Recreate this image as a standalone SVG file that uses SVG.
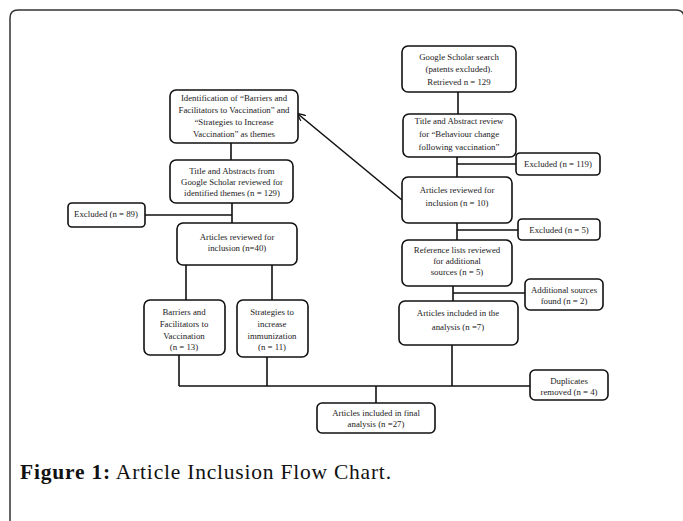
<svg xmlns="http://www.w3.org/2000/svg" width="683" height="521" viewBox="0 0 683 521">
<defs>
<style>
.box{fill:#fff;stroke:#111;stroke-width:1.6}
.t{font-family:"Liberation Serif","Times New Roman",serif;font-size:8.8px;fill:#222;text-anchor:middle;dominant-baseline:central}
.c{fill:none;stroke:#111;stroke-width:1.6}
.cap{font-family:"Liberation Serif","Times New Roman",serif;font-size:21.5px;fill:#111}
</style>
<marker id="ah" viewBox="0 0 10 10" refX="9" refY="5" markerWidth="8" markerHeight="8" orient="auto" markerUnits="userSpaceOnUse">
<path d="M0,0 L10,5 L0,10" fill="none" stroke="#111" stroke-width="1.6"/>
</marker>
</defs>
<rect width="683" height="521" fill="#fff"/>
<path d="M10,521 L10,18 Q10,10 18,10 L676,10 Q683,10 684,16" fill="none" stroke="#333" stroke-width="1.5"/>

<g id="connectors">
<path class="c" d="M458,92 V114"/>
<path class="c" d="M457,157 V177 M457,164 H516"/>
<path class="c" d="M457,223 V240 M457,230 H518"/>
<path class="c" d="M453,286 V301 M453,293 H525"/>
<path class="c" d="M452,345 V386"/>
<path class="c" d="M179,355 V386 M267,357 V386 M179,386 H530"/>
<path class="c" d="M376,386 V403"/>
<path class="c" d="M231,143 V160"/>
<path class="c" d="M232,203 V223 M145,215 H232"/>
<path class="c" d="M186,265 V300 M272,265 V300"/>
<path class="c" d="M402,200 L298,114" marker-end="url(#ah)"/>
</g>

<g id="n1"><rect class="box" x="402" y="46" width="114" height="46" rx="6"/>
<text class="t" x="459" y="57">Google Scholar search</text>
<text class="t" x="459" y="69">(patents excluded).</text>
<text class="t" x="459" y="82">Retrieved n = 129</text></g>

<g id="n2"><rect class="box" x="403" y="114" width="113" height="43" rx="6"/>
<text class="t" x="459" y="121">Title and Abstract review</text>
<text class="t" x="459" y="134">for “Behaviour change</text>
<text class="t" x="459" y="147">following vaccination”</text></g>

<g id="n3"><rect class="box" x="516" y="153" width="84" height="22" rx="4"/>
<text class="t" x="558" y="164">Excluded (n = 119)</text></g>

<g id="n4"><rect class="box" x="402" y="177" width="110" height="46" rx="6"/>
<text class="t" x="457" y="190">Articles reviewed for</text>
<text class="t" x="457" y="203">inclusion  (n = 10)</text></g>

<g id="n5"><rect class="box" x="518" y="219" width="82" height="21" rx="4"/>
<text class="t" x="559" y="229.5">Excluded (n = 5)</text></g>

<g id="n6"><rect class="box" x="402" y="240" width="110" height="46" rx="6"/>
<text class="t" x="457" y="250">Reference lists reviewed</text>
<text class="t" x="457" y="261">for additional</text>
<text class="t" x="457" y="272">sources (n = 5)</text></g>

<g id="n7"><rect class="box" x="525" y="279" width="78" height="31" rx="5"/>
<text class="t" x="564" y="290">Additional sources</text>
<text class="t" x="564" y="301">found (n = 2)</text></g>

<g id="n8"><rect class="box" x="399" y="301" width="119" height="44" rx="6"/>
<text class="t" x="458" y="313">Articles included in the</text>
<text class="t" x="458" y="327">analysis  (n =7)</text></g>

<g id="n9"><rect class="box" x="530" y="370" width="78" height="30" rx="5"/>
<text class="t" x="569" y="381">Duplicates</text>
<text class="t" x="569" y="392">removed (n = 4)</text></g>

<g id="n10"><rect class="box" x="317" y="403" width="118" height="30" rx="5"/>
<text class="t" x="376" y="413">Articles included in final</text>
<text class="t" x="376" y="424">analysis  (n =27)</text></g>

<g id="n11"><rect class="box" x="170" y="90" width="128" height="53" rx="6"/>
<text class="t" x="234" y="98">Identification of “Barriers and</text>
<text class="t" x="234" y="110">Facilitators to Vaccination” and</text>
<text class="t" x="234" y="122">“Strategies to Increase</text>
<text class="t" x="234" y="134">Vaccination” as themes</text></g>

<g id="n12"><rect class="box" x="170" y="160" width="123" height="43" rx="6"/>
<text class="t" x="232" y="171">Title and Abstracts from</text>
<text class="t" x="232" y="182">Google Scholar reviewed for</text>
<text class="t" x="232" y="193">identified themes (n = 129)</text></g>

<g id="n13"><rect class="box" x="68" y="203" width="77" height="24" rx="4"/>
<text class="t" x="106" y="214">Excluded (n = 89)</text></g>

<g id="n14"><rect class="box" x="177" y="223" width="120" height="42" rx="6"/>
<text class="t" x="237" y="237">Articles reviewed for</text>
<text class="t" x="237" y="248">inclusion  (n=40)</text></g>

<g id="n15"><rect class="box" x="144" y="300" width="81" height="55" rx="6"/>
<text class="t" x="184" y="312">Barriers and</text>
<text class="t" x="184" y="324">Facilitators to</text>
<text class="t" x="184" y="336">Vaccination</text>
<text class="t" x="184" y="347">(n = 13)</text></g>

<g id="n16"><rect class="box" x="237" y="300" width="71" height="57" rx="6"/>
<text class="t" x="272" y="312">Strategies to</text>
<text class="t" x="272" y="324">increase</text>
<text class="t" x="272" y="336">immunization</text>
<text class="t" x="272" y="347">(n = 11)</text></g>

<text class="cap" x="20" y="479" textLength="371" lengthAdjust="spacing"><tspan font-weight="bold">Figure 1:</tspan> Article Inclusion Flow Chart.</text>
</svg>
